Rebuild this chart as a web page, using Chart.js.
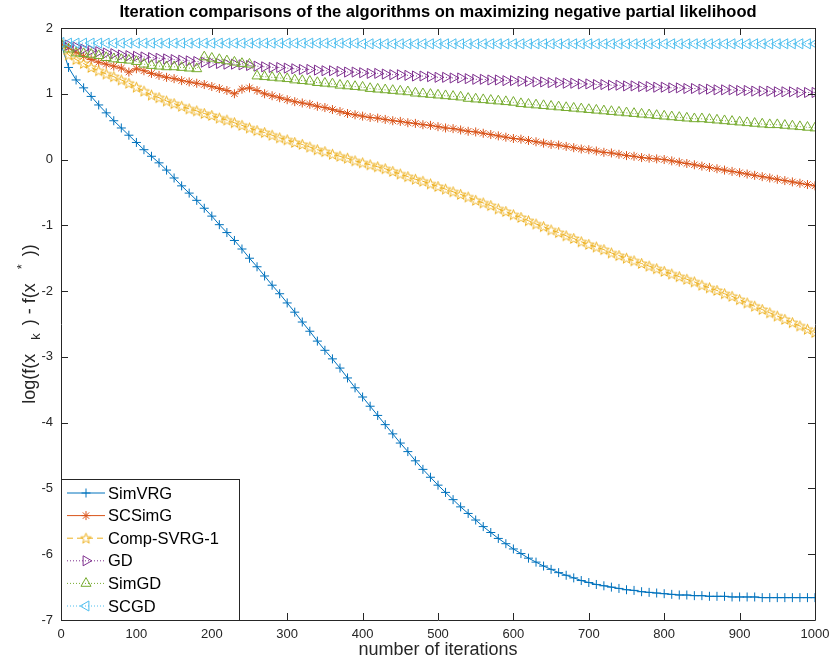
<html>
<head>
<meta charset="utf8"/>
<title>Iteration comparisons</title>
<script src="https://cdn.jsdelivr.net/npm/chart.js"></script>
<style type="text/css">
html, body{
  margin: 0;
  padding: 0;
  background-color: #fff;
}
#wrap{
  width: 830px;
  height: 666px;
}
</style>
</head>
<body>
<div id="wrap"><canvas id="mycanvas" width="830" height="666"></canvas></div>
<script>
// iteration counts where markers sit (every 10)
const iters = [0,10,20,30,40,50,60,70,80,90,
  100,110,120,130,140,150,160,170,180,190,
  200,210,220,230,240,250,260,270,280,290,
  300,310,320,330,340,350,360,370,380,390,
  400,410,420,430,440,450,460,470,480,490,
  500,510,520,530,540,550,560,570,580,590,
  600,610,620,630,640,650,660,670,680,690,
  700,710,720,730,740,750,760,770,780,790,
  800,810,820,830,840,850,860,870,880,890,
  900,910,920,930,940,950,960,970,980,990,1000];

const simVRG = [1.76,1.40,1.21,1.09,0.96,0.83,0.71,0.59,0.48,0.37,
  0.26,0.15,0.05,-0.05,-0.16,-0.28,-0.40,-0.51,-0.62,-0.74,
  -0.86,-0.99,-1.11,-1.23,-1.36,-1.50,-1.63,-1.77,-1.91,-2.04,
  -2.18,-2.32,-2.47,-2.61,-2.76,-2.90,-3.03,-3.17,-3.32,-3.47,
  -3.61,-3.75,-3.89,-4.03,-4.17,-4.31,-4.44,-4.58,-4.71,-4.83,
  -4.95,-5.06,-5.17,-5.28,-5.38,-5.48,-5.58,-5.67,-5.76,-5.84,
  -5.92,-5.99,-6.06,-6.12,-6.18,-6.23,-6.28,-6.32,-6.36,-6.40,
  -6.43,-6.46,-6.48,-6.50,-6.52,-6.54,-6.55,-6.57,-6.58,-6.59,
  -6.60,-6.61,-6.62,-6.62,-6.63,-6.63,-6.64,-6.64,-6.64,-6.65,
  -6.65,-6.65,-6.65,-6.66,-6.66,-6.66,-6.66,-6.66,-6.66,-6.66,-6.66];

const scSimG = [1.76,1.70,1.63,1.57,1.52,1.48,1.45,1.42,1.39,1.33,
  1.38,1.35,1.31,1.28,1.25,1.23,1.20,1.18,1.16,1.14,
  1.11,1.08,1.05,1.00,1.07,1.09,1.05,1.00,0.97,0.94,
  0.91,0.88,0.86,0.84,0.81,0.79,0.76,0.73,0.70,0.68,
  0.66,0.64,0.63,0.61,0.59,0.58,0.56,0.55,0.53,0.52,
  0.50,0.48,0.47,0.45,0.43,0.42,0.40,0.38,0.36,0.34,
  0.32,0.31,0.29,0.27,0.25,0.23,0.22,0.20,0.18,0.16,
  0.15,0.13,0.11,0.10,0.08,0.06,0.05,0.03,0.02,0.01,
  0.00,-0.02,-0.04,-0.06,-0.08,-0.10,-0.12,-0.14,-0.16,-0.18,
  -0.20,-0.22,-0.24,-0.26,-0.28,-0.30,-0.32,-0.34,-0.36,-0.38,-0.40];

const compSVRG = [1.76,1.59,1.52,1.46,1.40,1.35,1.30,1.26,1.21,1.16,
  1.10,1.04,0.98,0.94,0.89,0.85,0.81,0.77,0.74,0.70,
  0.67,0.63,0.60,0.56,0.52,0.48,0.44,0.41,0.37,0.33,
  0.30,0.26,0.23,0.19,0.15,0.12,0.08,0.05,0.02,-0.02,
  -0.05,-0.08,-0.11,-0.14,-0.18,-0.22,-0.26,-0.30,-0.33,-0.37,
  -0.41,-0.45,-0.49,-0.53,-0.57,-0.62,-0.66,-0.70,-0.75,-0.79,
  -0.84,-0.88,-0.93,-0.98,-1.02,-1.07,-1.11,-1.16,-1.20,-1.25,
  -1.29,-1.33,-1.37,-1.42,-1.46,-1.50,-1.54,-1.58,-1.62,-1.66,
  -1.70,-1.74,-1.78,-1.82,-1.86,-1.91,-1.95,-1.99,-2.04,-2.08,
  -2.13,-2.18,-2.23,-2.28,-2.33,-2.38,-2.43,-2.48,-2.53,-2.58,-2.63];

const gd = [1.76,1.74,1.71,1.68,1.66,1.64,1.62,1.61,1.59,1.58,
  1.57,1.56,1.55,1.54,1.53,1.52,1.51,1.50,1.49,1.48,
  1.47,1.46,1.45,1.45,1.44,1.43,1.42,1.41,1.40,1.40,
  1.39,1.38,1.37,1.37,1.36,1.35,1.35,1.34,1.33,1.33,
  1.32,1.31,1.31,1.30,1.29,1.29,1.28,1.27,1.27,1.26,
  1.25,1.25,1.24,1.24,1.23,1.22,1.22,1.21,1.21,1.20,
  1.20,1.19,1.19,1.18,1.18,1.17,1.17,1.16,1.16,1.15,
  1.15,1.14,1.14,1.13,1.13,1.12,1.12,1.11,1.11,1.10,
  1.10,1.09,1.09,1.08,1.08,1.07,1.07,1.06,1.06,1.06,
  1.05,1.05,1.04,1.04,1.04,1.03,1.03,1.03,1.02,1.02,1.02];

const simGD = [1.76,1.68,1.62,1.61,1.60,1.58,1.55,1.53,1.52,1.51,
  1.49,1.45,1.43,1.42,1.41,1.41,1.40,1.39,1.38,1.56,
  1.54,1.52,1.50,1.48,1.46,1.45,1.27,1.26,1.25,1.24,
  1.23,1.21,1.20,1.19,1.17,1.16,1.15,1.13,1.12,1.11,
  1.10,1.08,1.07,1.06,1.05,1.04,1.03,1.01,1.00,0.99,
  0.98,0.97,0.96,0.95,0.93,0.92,0.91,0.90,0.89,0.88,
  0.87,0.85,0.84,0.83,0.82,0.81,0.80,0.79,0.78,0.77,
  0.76,0.75,0.74,0.73,0.72,0.71,0.70,0.69,0.68,0.67,
  0.66,0.65,0.64,0.63,0.62,0.62,0.61,0.60,0.59,0.58,
  0.57,0.56,0.55,0.54,0.53,0.53,0.52,0.51,0.50,0.49,0.48];

const scgd = [1.78,1.77,1.77,1.77,1.77,1.77,1.77,1.77,1.77,1.77,
  1.77,1.77,1.77,1.77,1.77,1.77,1.77,1.77,1.77,1.77,
  1.77,1.77,1.77,1.77,1.77,1.77,1.77,1.77,1.77,1.77,
  1.77,1.77,1.77,1.77,1.77,1.77,1.77,1.77,1.77,1.77,
  1.76,1.76,1.76,1.76,1.76,1.76,1.76,1.76,1.76,1.76,
  1.76,1.76,1.76,1.76,1.76,1.76,1.76,1.76,1.76,1.76,
  1.76,1.76,1.76,1.76,1.76,1.76,1.76,1.76,1.76,1.76,
  1.76,1.76,1.76,1.76,1.76,1.76,1.76,1.76,1.76,1.76,
  1.76,1.76,1.76,1.76,1.76,1.76,1.76,1.76,1.76,1.76,
  1.76,1.76,1.76,1.76,1.76,1.76,1.76,1.76,1.76,1.76,1.76];

const xTicks = [0,100,200,300,400,500,600,700,800,900,1000];
const yTicks = [-7,-6,-5,-4,-3,-2,-1,0,1,2];

const titleText = 'Iteration comparisons of the algorithms on maximizing negative partial likelihood';
const xTitle = 'number of iterations';

const fontFam = '"Liberation Sans", Arial, sans-serif';

// five point star marker (matlab 'p')
function makeStar( color ){
  var c = document.createElement( 'canvas' );
  c.width = 13;
  c.height = 13;
  var g = c.getContext( '2d' );
  g.strokeStyle = color;
  g.lineWidth = 1;
  g.beginPath();
  for( var i = 0; i < 10; i++ ){
    var r = ( i % 2 == 0 ) ? 5.5 : 2.3;
    var a = -Math.PI / 2 + i * Math.PI / 5;
    var px = 6.5 + r * Math.cos( a );
    var py = 6.9 + r * Math.sin( a );
    if( i == 0 ) g.moveTo( px, py ); else g.lineTo( px, py );
  }
  g.closePath();
  g.stroke();
  return c;
}

function pts( ys ){
  return ys.map( function( v, i ){ return { x: iters[i], y: v }; } );
}

function series( label, ys, color, style, rot, rad, dash ){
  return {
    label: label,
    data: pts( ys ),
    borderColor: color,
    backgroundColor: color,
    borderWidth: 1,
    borderDash: dash,
    pointStyle: style,
    pointRotation: rot,
    pointRadius: rad,
    pointBorderColor: color,
    pointBackgroundColor: 'rgba(0,0,0,0)',
    pointBorderWidth: 1,
    tension: 0,
    fill: false
  };
}

const datasets = [
  series( 'SimVRG', simVRG, '#0072BD', 'cross', 0, 4.5, [] ),
  series( 'SCSimG', scSimG, '#D95319', 'star', 0, 4.5, [] ),
  series( 'Comp-SVRG-1', compSVRG, '#EDB120', makeStar( '#EDB120' ), 0, 5.5, [6, 4] ),
  series( 'GD', gd, '#7E2F8E', 'triangle', 90, 5.8, [1, 2] ),
  series( 'SimGD', simGD, '#77AC30', 'triangle', 0, 5.8, [1, 2] ),
  series( 'SCGD', scgd, '#4DBEEE', 'triangle', -90, 5.8, [1, 2] )
];
datasets.forEach( function( d, i ){ d.order = datasets.length - i; } );

const axisColor = '#262626';

const frame = {
  id: 'frame',
  afterDraw( chart ){
    const ctx = chart.ctx;
    const a = chart.chartArea;
    const sx = chart.scales.x;
    const sy = chart.scales.y;
    ctx.save();
    ctx.strokeStyle = axisColor;
    ctx.lineWidth = 1;
    ctx.setLineDash( [] );
    ctx.beginPath();
    ctx.rect( Math.round( a.left ) + 0.5, Math.round( a.top ) + 0.5, Math.round( a.width ), Math.round( a.height ) );
    xTicks.forEach( function( v ){
      const px = Math.round( sx.getPixelForValue( v ) ) + 0.5;
      ctx.moveTo( px, a.bottom ); ctx.lineTo( px, a.bottom - 7 );
      ctx.moveTo( px, a.top ); ctx.lineTo( px, a.top + 7 );
    } );
    yTicks.forEach( function( v ){
      const py = Math.round( sy.getPixelForValue( v ) ) + 0.5;
      ctx.moveTo( a.left, py ); ctx.lineTo( a.left + 7, py );
      ctx.moveTo( a.right, py ); ctx.lineTo( a.right - 7, py );
    } );
    ctx.stroke();

    // title
    ctx.fillStyle = '#000';
    ctx.font = 'bold 16.5px ' + fontFam;
    ctx.textAlign = 'center';
    ctx.textBaseline = 'middle';
    ctx.fillText( titleText, ( a.left + a.right ) / 2, 12 );

    // x title
    ctx.fillStyle = axisColor;
    ctx.font = '18px ' + fontFam;
    ctx.fillText( xTitle, ( a.left + a.right ) / 2, 650 );

    // y title with sub/superscript: text, font, shift, gap before
    ctx.translate( 30, ( a.top + a.bottom ) / 2 );
    ctx.rotate( -Math.PI / 2 );
    const big = '18px ' + fontFam;
    const small = '13px ' + fontFam;
    const parts = [
      [ 'log(f(x', big, 0, 0 ], [ 'k', small, 6, 14 ], [ ') - f(x', big, 0, 8 ], [ '*', small, -8, 14 ], [ '))', big, 0, 8 ]
    ];
    let total = 0;
    parts.forEach( function( p ){ ctx.font = p[1]; total += ctx.measureText( p[0] ).width + p[3]; } );
    let cx = -total / 2;
    ctx.textAlign = 'left';
    parts.forEach( function( p ){
      ctx.font = p[1];
      cx += p[3];
      ctx.fillText( p[0], cx, p[2] );
      cx += ctx.measureText( p[0] ).width;
    } );
    ctx.restore();

    // legend box
    ctx.save();
    const lx = Math.round( a.left ) + 0.5, ly = 479.5, lw = 178, lh = Math.round( a.bottom ) + 0.5 - ly;
    ctx.fillStyle = '#fff';
    ctx.fillRect( lx, ly, lw, lh );
    ctx.strokeStyle = axisColor;
    ctx.lineWidth = 1;
    ctx.strokeRect( lx, ly, lw, lh );
    chart.data.datasets.forEach( function( d, i ){
      const yy = 493 + i * 22.6;
      ctx.strokeStyle = d.borderColor;
      ctx.lineWidth = 1;
      ctx.setLineDash( d.borderDash );
      ctx.beginPath();
      ctx.moveTo( 67, yy ); ctx.lineTo( 105, yy );
      ctx.stroke();
      ctx.setLineDash( [] );
      ctx.fillStyle = 'rgba(0,0,0,0)';
      Chart.helpers.drawPoint( ctx, {
        pointStyle: d.pointStyle, rotation: d.pointRotation, radius: d.pointRadius, borderWidth: 1
      }, 86, yy );
      ctx.fillStyle = '#000';
      ctx.font = '16.5px ' + fontFam;
      ctx.textAlign = 'left';
      ctx.textBaseline = 'middle';
      ctx.fillText( d.label, 108, yy + 1 );
    } );
    ctx.restore();
  }
};

const chartobj = new Chart( document.getElementById( 'mycanvas' ), {
  type: 'line',
  data: { datasets: datasets },
  options: {
    responsive: false,
    animation: false,
    devicePixelRatio: 1,
    layout: { padding: { top: 28, right: 15, left: 0, bottom: 0 } },
    plugins: {
      legend: { display: false },
      title: { display: false },
      tooltip: { enabled: false }
    },
    scales: {
      x: {
        type: 'linear',
        min: 0,
        max: 1000,
        afterFit: function( s ){ s.height = 46; s.paddingLeft = 0; s.paddingRight = 0; },
        afterBuildTicks: function( s ){ s.ticks = xTicks.map( function( v ){ return { value: v }; } ); },
        grid: { display: false, drawTicks: false },
        border: { display: false },
        ticks: {
          color: axisColor,
          padding: 7,
          maxRotation: 0,
          callback: function( v ){ return String( v ); },
          font: { family: fontFam, size: 13 }
        }
      },
      y: {
        type: 'linear',
        min: -7,
        max: 2,
        afterFit: function( s ){ s.width = 61; s.paddingTop = 0; s.paddingBottom = 0; },
        afterBuildTicks: function( s ){ s.ticks = yTicks.map( function( v ){ return { value: v }; } ); },
        grid: { display: false, drawTicks: false },
        border: { display: false },
        ticks: {
          color: axisColor,
          padding: 8,
          callback: function( v ){ return String( v ); },
          font: { family: fontFam, size: 13 }
        }
      }
    }
  },
  plugins: [ frame ]
} );
</script>
</body>
</html>
